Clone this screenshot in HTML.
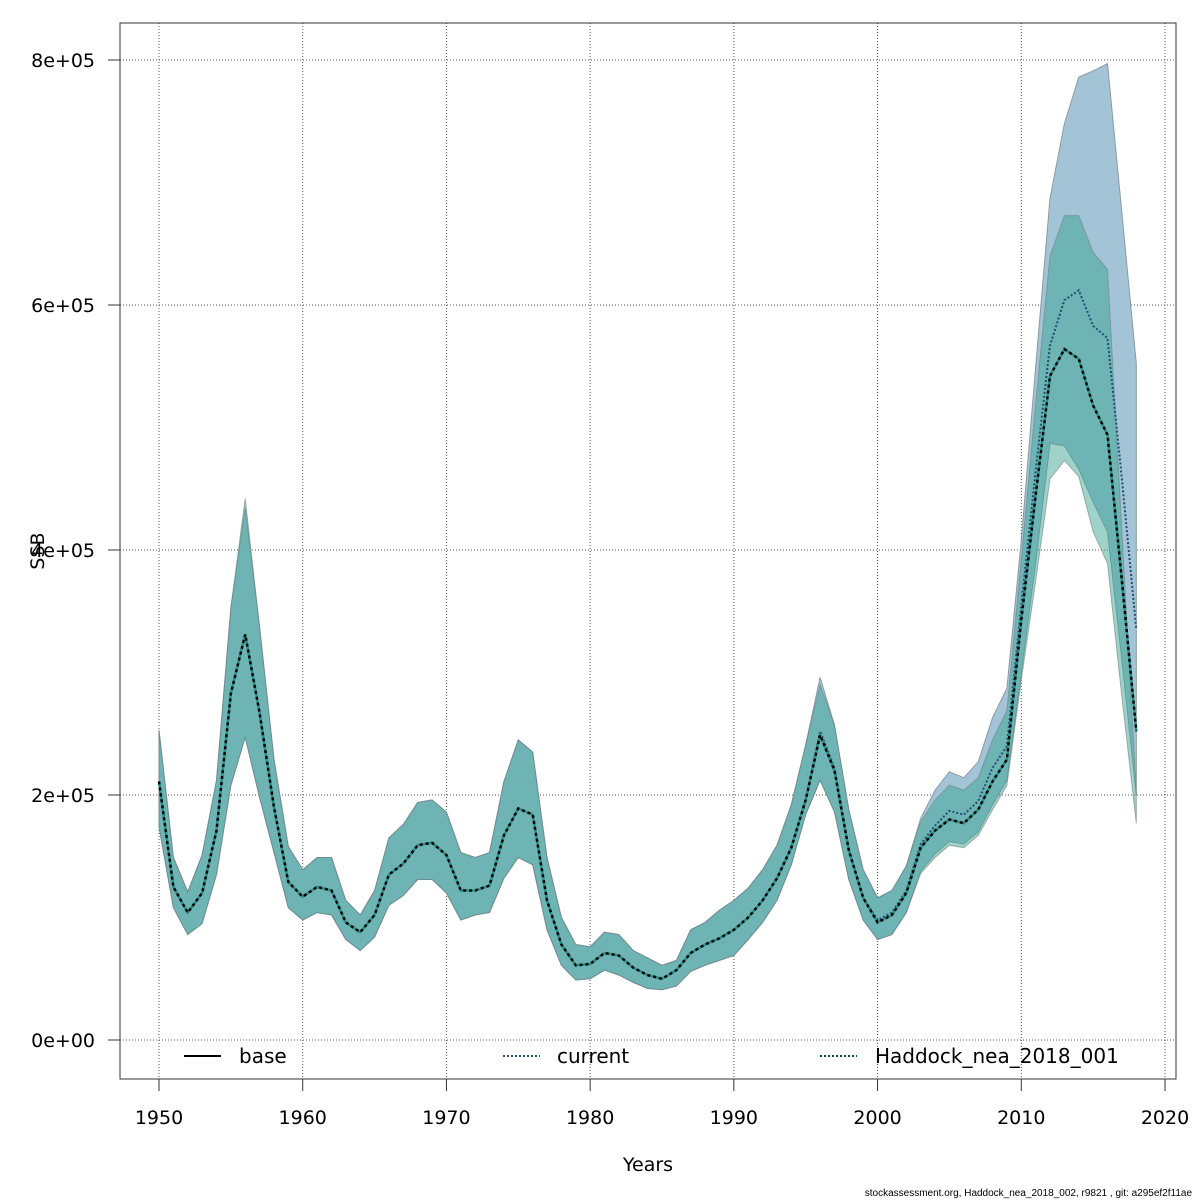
<!DOCTYPE html>
<html><head><meta charset="utf-8">
<style>
html,body{margin:0;padding:0;background:#fff;}
svg{display:block;font-family:"DejaVu Sans","Liberation Sans",sans-serif;}
</style></head>
<body>
<svg id="chart" width="1200" height="1200" viewBox="0 0 1200 1200" xmlns="http://www.w3.org/2000/svg">
<rect x="0" y="0" width="1200" height="1200" fill="#fff"/>
<g id="grid"></g>
<g id="bands"></g>
<g id="lines"></g>
<g id="axes"></g>
<rect x="120" y="23" width="1056" height="1056" fill="none" stroke="#333" stroke-width="1"/>
<text x="648" y="1171" font-size="19" text-anchor="middle">Years</text>
<text transform="translate(44,551) rotate(-90)" font-size="19" text-anchor="middle">SSB</text>
<g>
 <g>
  <line x1="184" y1="1056" x2="221" y2="1056" stroke="#000" stroke-width="2"/>
  <text x="239" y="1063" font-size="20">base</text>
 </g>
 <g>
  <line x1="503" y1="1056" x2="540" y2="1056" stroke="#1d4f73" stroke-width="2" stroke-dasharray="2,2"/>
  <text x="557" y="1063" font-size="20">current</text>
 </g>
 <g>
  <line x1="820" y1="1056" x2="857" y2="1056" stroke="#0b4a3a" stroke-width="2" stroke-dasharray="2,2"/>
  <text x="875" y="1063" font-size="20">Haddock_nea_2018_001</text>
 </g>
</g>
<text x="1192" y="1196" font-size="10" text-anchor="end" font-family="Liberation Sans, sans-serif">stockassessment.org, Haddock_nea_2018_002, r9821 , git: a295ef2f11ae</text>
</svg>
<script>
const years = [];
for (let y = 1950; y <= 2018; y++) years.push(y);
// values in thousands of tonnes
const baseMean = [211,125,104,120,171,283,331,267,190,129,117,125,122,96,88,102,135,144,159,161,151,122,122,126,167,189,184,114,78,61,62,71,69,59,53,50,57,71,78,83,90,100,114,132,157,196,249,220,155,116,96,102,120,157,171,180,177,188,211,229,343,445,542,564,556,518,494,375,252];
const baseUpper = [253,149,121,151,212,353,442,337,229,158,139,149,149,114,102,122,165,176,194,196,186,153,149,153,211,245,235,149,100,78,76,88,86,73,67,61,65,90,96,106,114,124,139,159,192,241,290,257,188,139,116,122,142,178,196,208,204,214,245,269,392,520,640,673,673,643,629,415,202];
const baseLower = [174,108,86,95,135,208,247,198,153,108,98,104,102,82,73,84,110,118,131,131,120,98,102,104,132,149,143,90,61,49,50,57,53,47,42,41,44,56,61,65,69,82,96,114,143,184,212,186,131,98,82,86,104,136,149,159,157,167,188,208,294,375,458,473,460,415,389,280,177];
const curMean = [211,125,104,120,171,283,331,267,190,129,117,125,122,96,88,102,135,144,159,161,151,122,122,126,167,189,184,114,78,61,62,71,69,59,53,50,57,71,78,83,90,100,114,132,157,196,252,222,155,116,98,104,122,160,175,187,184,195,222,240,355,465,567,604,612,583,573,458,335];
const curUpper = [253,149,121,151,212,353,434,337,229,158,139,149,149,114,102,122,165,176,194,196,186,153,149,153,211,245,235,149,100,78,76,88,86,73,67,61,65,90,96,106,114,124,139,159,192,241,296,257,188,139,116,122,142,181,204,219,214,227,263,287,408,550,687,748,786,791,797,675,552];
const curLower = [174,108,86,95,135,208,247,198,153,108,98,104,102,82,73,84,110,118,131,131,120,98,102,104,132,149,143,90,61,49,50,57,53,47,42,41,44,56,61,65,69,82,96,114,143,184,212,186,131,98,82,86,104,138,152,162,160,170,192,212,300,390,487,485,466,439,415,310,200];
const xTicks = [1950,1960,1970,1980,1990,2000,2010,2020];
const yTicks = [0,200,400,600,800];
const yTickLabels = ["0e+00","2e+05","4e+05","6e+05","8e+05"];

const NS = "http://www.w3.org/2000/svg";
const xS = v => 159 + (v - 1950) * (1165 - 159) / 70;
const yS = v => 1040 - v * (980 / 800);
function mk(tag, attrs, parent) {
  const e = document.createElementNS(NS, tag);
  for (const k in attrs) e.setAttribute(k, attrs[k]);
  parent.appendChild(e);
  return e;
}
const grid = document.getElementById('grid');
const axes = document.getElementById('axes');
const bands = document.getElementById('bands');
const lines = document.getElementById('lines');

xTicks.forEach(t => {
  const g = mk('line', {x1: xS(t), x2: xS(t), y1: 23, y2: 1079, stroke: '#555', 'stroke-width': 1, 'stroke-dasharray': '1,2'}, grid);
  
  
  const tk = mk('line', {x1: xS(t), x2: xS(t), y1: 1079, y2: 1091, stroke: '#333'}, axes);
  
  
  const tx = mk('text', {x: xS(t), y: 1124, 'font-size': 19, 'text-anchor': 'middle'}, axes);
  tx.textContent = t;
  
  
});
yTicks.forEach((t, i) => {
  const g = mk('line', {x1: 120, x2: 1176, y1: yS(t), y2: yS(t), stroke: '#555', 'stroke-width': 1, 'stroke-dasharray': '1,2'}, grid);
  
  
  const tk = mk('line', {x1: 108, x2: 120, y1: yS(t), y2: yS(t), stroke: '#333'}, axes);
  
  
  const tx = mk('text', {x: 95, y: yS(t) + 7, 'font-size': 19, 'text-anchor': 'end'}, axes);
  tx.textContent = yTickLabels[i];
  
  
});

function bandPath(up, lo) {
  let d = '';
  years.forEach((y, i) => { d += (i ? 'L' : 'M') + xS(y).toFixed(1) + ',' + yS(up[i]).toFixed(1); });
  for (let i = years.length - 1; i >= 0; i--) d += 'L' + xS(years[i]).toFixed(1) + ',' + yS(lo[i]).toFixed(1);
  return d + 'Z';
}
function linePath(v) {
  let d = '';
  years.forEach((y, i) => { d += (i ? 'L' : 'M') + xS(y).toFixed(1) + ',' + yS(v[i]).toFixed(1); });
  return d;
}
const b1 = mk('path', {d: bandPath(curUpper, curLower), fill: '#a3c4d6', stroke: '#8a9aa4', 'stroke-width': 1}, bands);


const b2 = mk('path', {d: bandPath(baseUpper, baseLower), fill: 'rgba(55,162,142,0.48)', stroke: 'rgba(110,130,130,0.6)', 'stroke-width': 1}, bands);



const l1 = mk('path', {d: linePath(curMean), fill: 'none', stroke: '#1d4f73', 'stroke-width': 2, 'stroke-dasharray': '2,2'}, lines);


const l2 = mk('path', {d: linePath(baseMean), fill: 'none', stroke: '#2a8f85', 'stroke-width': 2.5}, lines);


const l3 = mk('path', {d: linePath(baseMean), fill: 'none', stroke: '#000', 'stroke-width': 2.5, 'stroke-dasharray': '3,3'}, lines);


</script>
</body></html>
